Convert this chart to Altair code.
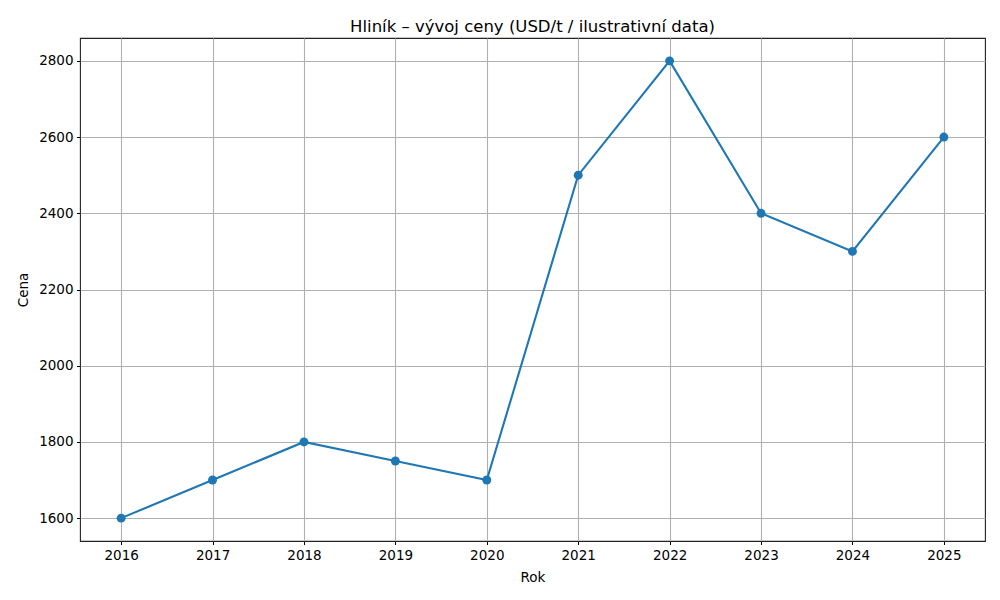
import altair as alt
import pandas as pd

years = [2016, 2017, 2018, 2019, 2020, 2021, 2022, 2023, 2024, 2025]
prices = [1600, 1700, 1800, 1750, 1700, 2500, 2800, 2400, 2300, 2600]
y_ticks = [1600, 1800, 2000, 2200, 2400, 2600, 2800]

df = pd.DataFrame({"Rok": years, "Cena": prices})

font = "DejaVu Sans"

x = alt.X("Rok:Q", title="Rok",
          scale=alt.Scale(domain=[2015.55, 2025.45], nice=False, zero=False),
          axis=alt.Axis(values=years, format="d", grid=True))
y = alt.Y("Cena:Q", title="Cena",
          scale=alt.Scale(domain=[1540, 2860], nice=False, zero=False),
          axis=alt.Axis(values=y_ticks, format="d", grid=True))

line = alt.Chart(df).mark_line(color="#1f77b4", strokeWidth=2.1).encode(x=x, y=y)
pts = alt.Chart(df).mark_circle(color="#1f77b4", size=80, opacity=1).encode(x=x, y=y)

chart = (line + pts).properties(
    width=905, height=503,
    title=alt.TitleParams("Hliník – vývoj ceny (USD/t / ilustrativní data)",
                          font=font, fontSize=16.5, fontWeight="normal",
                          anchor="middle", offset=3, color="black"),
    autosize=alt.AutoSizeParams(type="none"),
    padding={"left": 72, "top": 30, "right": 7, "bottom": 51},
).configure_view(stroke="#222222", strokeWidth=1.1).configure_axis(
    domain=False,
    gridColor="#b0b0b0", gridWidth=1.1, gridOpacity=1,
    tickColor="black", tickSize=3.5, tickWidth=1,
    labelFont=font, labelFontSize=13.5, labelColor="black", labelPadding=3.5,
    titleFont=font, titleFontSize=13.5, titleFontWeight="normal", titleColor="black",
).configure_axisY(titlePadding=8).configure_axisX(titlePadding=9)

chart.save("out.html", embed_options={"renderer": "svg", "actions": False})
